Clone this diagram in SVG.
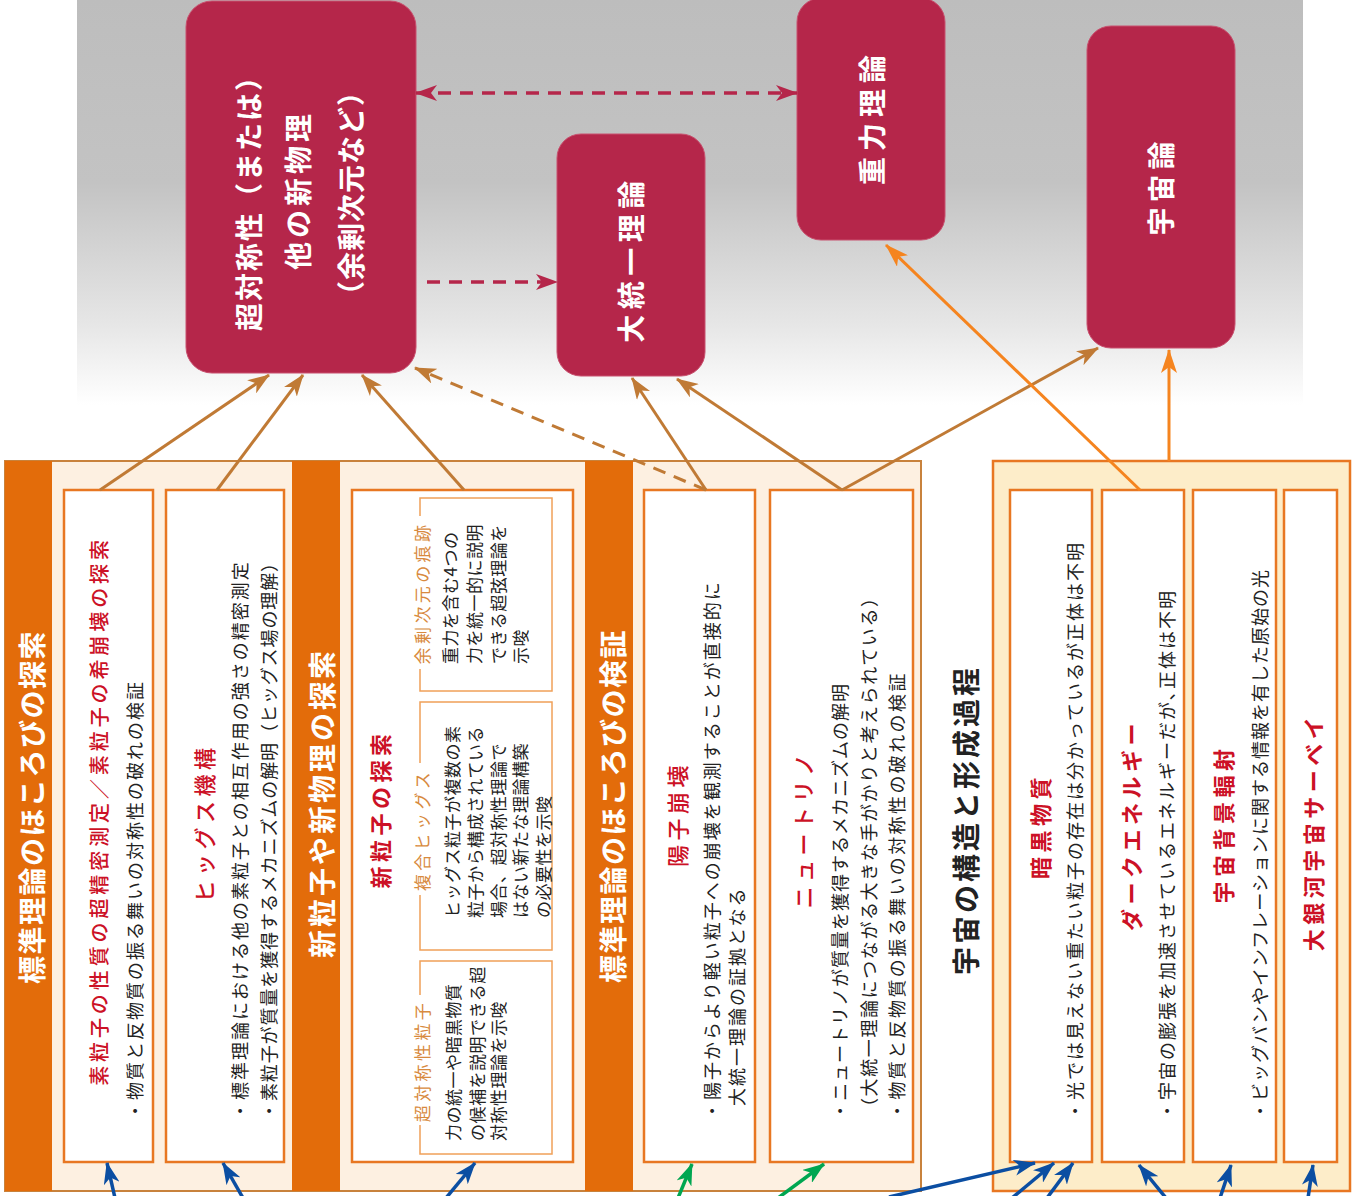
<svg xmlns="http://www.w3.org/2000/svg" width="1352" height="1196" viewBox="0 0 1352 1196">
<defs>
<linearGradient id="bg" x1="0" y1="0" x2="0" y2="1">
<stop offset="0" stop-color="#bdbdbd"/>
<stop offset="0.45" stop-color="#c3c3c3"/>
<stop offset="0.8" stop-color="#e6e6e6"/>
<stop offset="1" stop-color="#ffffff"/>
</linearGradient>
<marker id="mBrown" viewBox="0 0 22 16" refX="21" refY="8" markerWidth="22" markerHeight="16" markerUnits="userSpaceOnUse" orient="auto"><path d="M0,0 L22,8 L0,16 L6,8 z" fill="#c07a35"/></marker>
<marker id="mOrange" viewBox="0 0 24 16" refX="23" refY="8" markerWidth="24" markerHeight="16" markerUnits="userSpaceOnUse" orient="auto"><path d="M0,0 L24,8 L0,16 L6,8 z" fill="#f5841f"/></marker>
<marker id="mCrimson" viewBox="0 0 22 16" refX="21" refY="8" markerWidth="22" markerHeight="16" markerUnits="userSpaceOnUse" orient="auto-start-reverse"><path d="M0,0 L22,8 L0,16 L6,8 z" fill="#b5264a"/></marker>
<marker id="mBlue" viewBox="0 0 22 16" refX="21" refY="8" markerWidth="22" markerHeight="16" markerUnits="userSpaceOnUse" orient="auto"><path d="M0,0 L22,8 L0,16 L6,8 z" fill="#0b4ea2"/></marker>
<marker id="mGreen" viewBox="0 0 22 16" refX="21" refY="8" markerWidth="22" markerHeight="16" markerUnits="userSpaceOnUse" orient="auto"><path d="M0,0 L22,8 L0,16 L6,8 z" fill="#00a651"/></marker>
<style>
text { font-family: "Noto Sans CJK JP", "Noto Sans", sans-serif; dominant-baseline: central; }
.mid { text-anchor: middle; }
.node rect.n { fill: #b5264a; stroke: #c8506e; stroke-width: 1; }
.nt { fill: #ffffff; font-size: 28px; font-weight: bold; }
.side { fill: #ffffff; font-size: 28px; font-weight: bold; }
.ttl { fill: #cc1126; font-size: 22px; letter-spacing: 4.5px; font-weight: 500; }
.b { font-weight: bold; }
.body { fill: #222222; font-size: 18px; letter-spacing: 2px; }
.sub { fill: #d88a3e; font-size: 17px; letter-spacing: 3.4px; }
.sm { fill: #222222; font-size: 17px; letter-spacing: 0.5px; }
.box { fill: #ffffff; stroke: #e87722; stroke-width: 2.5; }
.sbox { fill: #ffffff; stroke: #f0a058; stroke-width: 1.5; }
.bar { fill: #e36c0a; }
.cb { fill: none; stroke: #c07a35; stroke-width: 3; }
.co { fill: none; stroke: #f5841f; stroke-width: 3; }
.cc { fill: none; stroke: #b5264a; stroke-width: 3.5; stroke-dasharray: 13 9; }
.cbl { fill: none; stroke: #0b4ea2; stroke-width: 3.5; }
.cg { fill: none; stroke: #00a651; stroke-width: 3.5; }
</style>
</defs>

<rect x="77" y="0" width="1226" height="405" fill="url(#bg)"/>

<!-- top nodes -->
<g id="node-susy" class="node">
<rect class="n" x="186" y="1" width="230" height="372" rx="26"/>
<text class="nt mid" transform="translate(248,196) rotate(-90)" style="letter-spacing:2px">超対称性（または）</text>
<text class="nt mid" transform="translate(297,190) rotate(-90)" style="letter-spacing:4px">他の新物理</text>
<text class="nt mid" transform="translate(350,193) rotate(-90)" style="letter-spacing:1px">（余剰次元など）</text>
</g>
<g id="node-gut" class="node">
<rect class="n" x="557" y="134" width="148" height="242" rx="24"/>
<text class="nt mid" transform="translate(630,259) rotate(-90)" style="letter-spacing:5.5px">大統一理論</text>
</g>
<g id="node-gravity" class="node">
<rect class="n" x="797" y="-2" width="148" height="242" rx="24"/>
<text class="nt mid" transform="translate(871,117) rotate(-90)" style="letter-spacing:6px">重力理論</text>
</g>
<g id="node-cosmology" class="node">
<rect class="n" x="1087" y="26" width="148" height="322" rx="24"/>
<text class="nt mid" transform="translate(1160,186) rotate(-90)" style="letter-spacing:5px">宇宙論</text>
</g>

<!-- left panels -->
<g id="panel-left-bg">
<rect x="5" y="461" width="916" height="730" fill="#fdf0e1" stroke="#c8823c" stroke-width="2"/>
</g>

<g id="panel-search">
<rect class="bar" x="5" y="461" width="47" height="730"/>
<text class="side mid" transform="translate(31,807) rotate(-90)" style="letter-spacing:1.5px">標準理論のほころびの探索</text>
</g>
<g id="box-precision">
<rect class="box" x="64" y="490" width="89" height="672"/>
<text class="ttl mid" transform="translate(98,811) rotate(-90)" style="font-size:20px;letter-spacing:3.9px">素粒子の性質の超精密測定／素粒子の希崩壊の探索</text>
<text class="body" transform="translate(134,1120) rotate(-90)">・物質と反物質の振る舞いの対称性の破れの検証</text>
</g>
<g id="box-higgs">
<rect class="box" x="166" y="490" width="118" height="672"/>
<text class="ttl mid" transform="translate(203,823) rotate(-90)">ヒッグス機構</text>
<text class="body" transform="translate(239,1120) rotate(-90)">・標準理論における他の素粒子との相互作用の強さの精密測定</text>
<text class="body" transform="translate(268,1120) rotate(-90)" style="letter-spacing:0.9px">・素粒子が質量を獲得するメカニズムの解明（ヒッグス場の理解）</text>
</g>

<g id="panel-newphys">
<rect class="bar" x="292" y="461" width="48" height="730"/>
<text class="side mid" transform="translate(321,803) rotate(-90)" style="letter-spacing:3px">新粒子や新物理の探索</text>
</g>
<g id="box-newparticle">
<rect class="box" x="352" y="490" width="221" height="672"/>
<text class="ttl mid b" transform="translate(379,809) rotate(-90)">新粒子の探索</text>
<rect class="sbox" x="420" y="498" width="132" height="193"/>
<rect x="411" y="516" width="20" height="153" fill="#ffffff"/>
<text class="sub mid" transform="translate(421,593) rotate(-90)">余剰次元の痕跡</text>
<text class="sm" transform="translate(449,664) rotate(-90)">重力を含む4つの</text>
<text class="sm" transform="translate(473,664) rotate(-90)">力を統一的に説明</text>
<text class="sm" transform="translate(497,664) rotate(-90)">できる超弦理論を</text>
<text class="sm" transform="translate(519,664) rotate(-90)">示唆</text>
<rect class="sbox" x="420" y="702" width="132" height="248"/>
<rect x="411" y="763" width="20" height="132" fill="#ffffff"/>
<text class="sub mid" transform="translate(421,830) rotate(-90)">複合ヒッグス</text>
<text class="sm" transform="translate(451,918) rotate(-90)">ヒッグス粒子が複数の素</text>
<text class="sm" transform="translate(474,918) rotate(-90)">粒子から構成されている</text>
<text class="sm" transform="translate(497,918) rotate(-90)">場合、超対称性理論で</text>
<text class="sm" transform="translate(519,918) rotate(-90)">はない新たな理論構築</text>
<text class="sm" transform="translate(542,918) rotate(-90)">の必要性を示唆</text>
<rect class="sbox" x="420" y="961" width="132" height="193"/>
<rect x="411" y="995" width="20" height="130" fill="#ffffff"/>
<text class="sub mid" transform="translate(421,1061) rotate(-90)">超対称性粒子</text>
<text class="sm" transform="translate(452,1141) rotate(-90)">力の統一や暗黒物質</text>
<text class="sm" transform="translate(476,1141) rotate(-90)">の候補を説明できる超</text>
<text class="sm" transform="translate(497,1141) rotate(-90)">対称性理論を示唆</text>
</g>

<g id="panel-verify">
<rect class="bar" x="585" y="461" width="48" height="730"/>
<text class="side mid" transform="translate(612,806) rotate(-90)" style="letter-spacing:1.5px">標準理論のほころびの検証</text>
</g>
<g id="box-proton">
<rect class="box" x="644" y="490" width="111" height="672"/>
<text class="ttl mid" transform="translate(676,814) rotate(-90)">陽子崩壊</text>
<text class="body" transform="translate(711,1120) rotate(-90)">・陽子からより軽い粒子への崩壊を観測することが直接的に</text>
<text class="body" transform="translate(736,1106) rotate(-90)">大統一理論の証拠となる</text>
</g>
<g id="box-neutrino">
<rect class="box" x="770" y="490" width="143" height="672"/>
<text class="ttl mid" transform="translate(802,829) rotate(-90)">ニュートリノ</text>
<text class="body" transform="translate(839,1120) rotate(-90)" style="letter-spacing:1px">・ニュートリノが質量を獲得するメカニズムの解明</text>
<text class="body" transform="translate(868,1116) rotate(-90)" style="letter-spacing:1.6px">（大統一理論につながる大きな手がかりと考えられている）</text>
<text class="body" transform="translate(896,1120) rotate(-90)" style="letter-spacing:2.4px">・物質と反物質の振る舞いの対称性の破れの検証</text>
</g>

<!-- cosmic panel -->
<g id="panel-cosmos">
<text class="side mid" transform="translate(965,820) rotate(-90)" style="fill:#222222;letter-spacing:3px">宇宙の構造と形成過程</text>
<rect x="993" y="461" width="357" height="730" fill="#fdedc9" stroke="#e87722" stroke-width="2.5"/>
</g>
<g id="box-darkmatter">
<rect class="box" x="1010" y="490" width="82" height="672"/>
<text class="ttl mid b" transform="translate(1039,826) rotate(-90)">暗黒物質</text>
<text class="body" transform="translate(1074,1120) rotate(-90)">・光では見えない重たい粒子の存在は分かっているが正体は不明</text>
</g>
<g id="box-darkenergy">
<rect class="box" x="1102" y="490" width="82" height="672"/>
<text class="ttl mid b" transform="translate(1130,825) rotate(-90)">ダークエネルギー</text>
<text class="body" transform="translate(1166,1120) rotate(-90)">・宇宙の膨張を加速させているエネルギーだが､正体は不明</text>
</g>
<g id="box-cmb">
<rect class="box" x="1193" y="490" width="83" height="672"/>
<text class="ttl mid b" transform="translate(1222,824) rotate(-90)">宇宙背景輻射</text>
<text class="body" transform="translate(1259,1120) rotate(-90)" style="letter-spacing:1px">・ビッグバンやインフレーションに関する情報を有した原始の光</text>
</g>
<g id="box-survey">
<rect class="box" x="1284" y="490" width="53" height="672"/>
<text class="ttl mid b" transform="translate(1312,832) rotate(-90)">大銀河宇宙サーベイ</text>
</g>

<!-- connectors -->
<g id="connectors">
<line class="cc" x1="416" y1="93" x2="797" y2="93" marker-start="url(#mCrimson)" marker-end="url(#mCrimson)"/>
<line class="cc" x1="427" y1="282" x2="557" y2="282" marker-end="url(#mCrimson)"/>

<line class="cb" x1="100" y1="490" x2="269" y2="375" marker-end="url(#mBrown)"/>
<line class="cb" x1="217" y1="490" x2="303" y2="375" marker-end="url(#mBrown)"/>
<line class="cb" x1="464" y1="490" x2="362" y2="375" marker-end="url(#mBrown)"/>
<line class="cb" x1="706" y1="490" x2="415" y2="368" stroke-dasharray="13 9" marker-end="url(#mBrown)"/>
<line class="cb" x1="706" y1="490" x2="632" y2="378" marker-end="url(#mBrown)"/>
<line class="cb" x1="842" y1="490" x2="677" y2="379" marker-end="url(#mBrown)"/>
<line class="cb" x1="842" y1="490" x2="1098" y2="348" marker-end="url(#mBrown)"/>

<line class="co" x1="1140" y1="490" x2="886" y2="245" marker-end="url(#mOrange)"/>
<line class="co" x1="1169" y1="461" x2="1169" y2="350" marker-end="url(#mOrange)"/>

<line class="cbl" x1="115" y1="1198" x2="107" y2="1163" marker-end="url(#mBlue)"/>
<line class="cbl" x1="243" y1="1198" x2="223" y2="1163" marker-end="url(#mBlue)"/>
<line class="cbl" x1="446" y1="1198" x2="475" y2="1163" marker-end="url(#mBlue)"/>
<line class="cg" x1="678" y1="1198" x2="692" y2="1164" marker-end="url(#mGreen)"/>
<line class="cg" x1="778" y1="1198" x2="824" y2="1164" marker-end="url(#mGreen)"/>
<line class="cbl" x1="889" y1="1197" x2="1035" y2="1163" marker-end="url(#mBlue)"/>
<line class="cbl" x1="1012" y1="1198" x2="1054" y2="1163" marker-end="url(#mBlue)"/>
<line class="cbl" x1="1047" y1="1198" x2="1073" y2="1163" marker-end="url(#mBlue)"/>
<line class="cbl" x1="1166" y1="1198" x2="1139" y2="1165" marker-end="url(#mBlue)"/>
<line class="cbl" x1="1220" y1="1198" x2="1231" y2="1165" marker-end="url(#mBlue)"/>
<line class="cbl" x1="1308" y1="1198" x2="1313" y2="1165" marker-end="url(#mBlue)"/>
</g>
</svg>
